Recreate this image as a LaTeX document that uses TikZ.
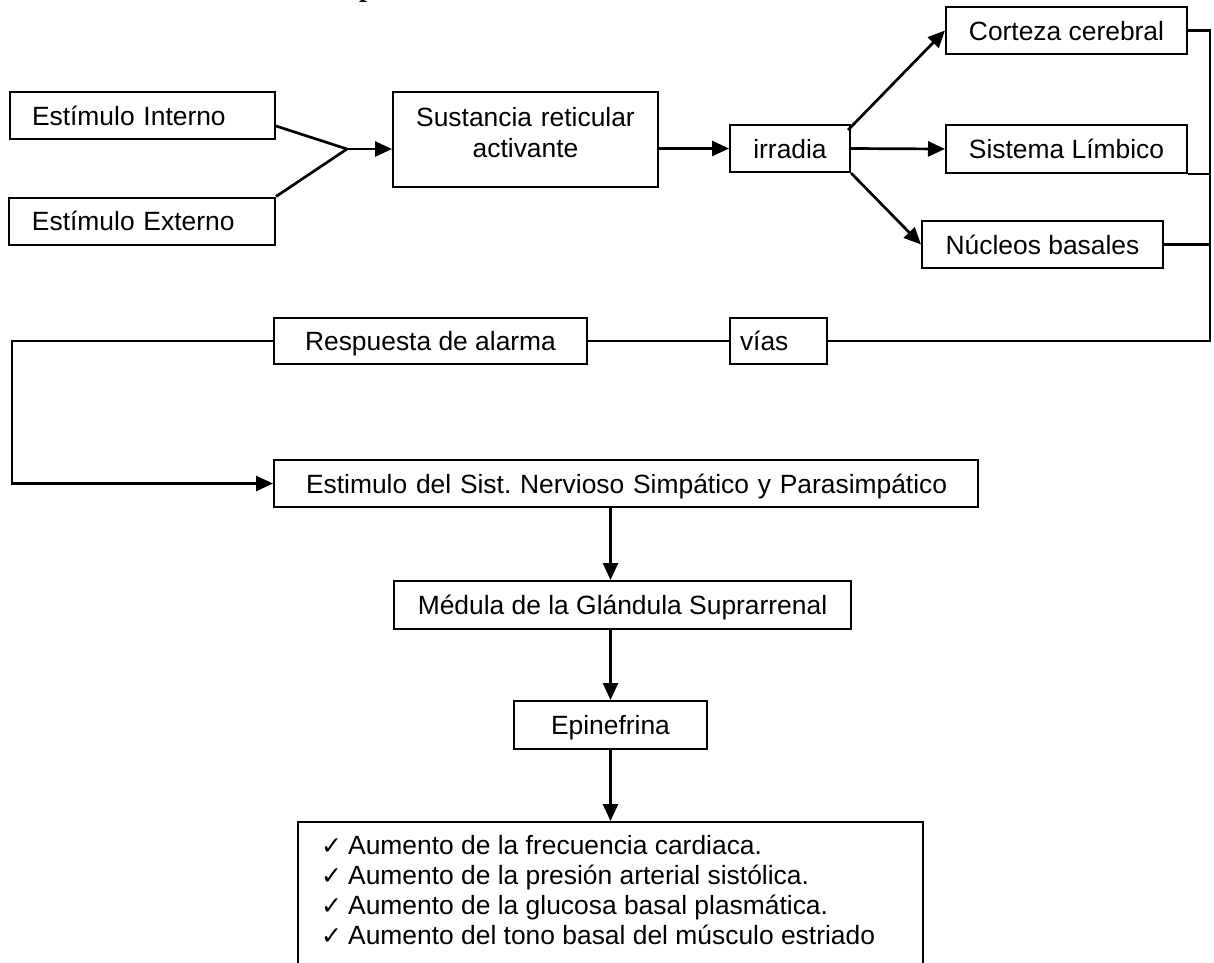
\documentclass[tikz,border=0pt]{standalone}
\usepackage{fontspec}
\setmainfont{Liberation Sans}
\newfontfamily\dejavu{DejaVu Sans}
\newfontfamily\serifb{Liberation Serif}
\usetikzlibrary{arrows.meta,calc}
\newcommand\listchk{\makebox[27pt][l]{\dejavu\fontsize{25}{25}\selectfont ✓}}
\frenchspacing
\begin{document}
\begin{tikzpicture}[x=1pt,y=-1pt,
  box/.style={draw, line width=2pt, inner sep=0pt, font=\fontsize{26.4}{31}\selectfont,
    text height=19pt, text depth=0pt, minimum height=47pt},
  conn/.style={line width=2.7pt, line join=miter},
  arr/.style={conn, -{Triangle[length=17pt,width=15pt]}},
  item/.style={anchor=base west, inner sep=0pt, font=\fontsize{26.4}{30}\selectfont}]
\useasboundingbox (0,0) rectangle (1214,962);
\begin{scope}
\clip (0,0) rectangle (1214,962);
\node[anchor=base west, inner sep=0pt, font=\serifb\bfseries\fontsize{28}{28}\selectfont] (frag) at (359,-4) {p};
\end{scope}
% boxes
\node[box, text width=265pt, align=left] (int) at (142.5,115.5) {\hspace*{22pt}Estímulo Interno};
\node[box, text width=266pt, align=left] (ext) at (142,221) {\hspace*{23pt}Estímulo Externo};
\node[box, text width=265pt, align=center, minimum height=95pt, text depth=45pt] (sus) at (525.5,139.5) {Sustancia reticular\\activante};
\node[box, minimum width=120pt] (irr) at (790,148.5) {irradia};
\node[box, minimum width=241pt] (cor) at (1066.5,30.5) {Corteza cerebral};
\node[box, minimum width=241pt, minimum height=48pt] (lim) at (1066.5,149) {Sistema Límbico};
\node[box, minimum width=241pt] (nuc) at (1042.5,244.5) {Núcleos basales};
\node[box, minimum width=313pt, minimum height=46pt] (res) at (430.5,341) {Respuesta de alarma};
\node[box, text width=97pt, align=left, minimum height=46pt] (vias) at (778.5,341) {\hspace*{10pt}vías};
\node[box, text width=704pt, align=left] (est) at (626,483.5) {\hspace*{32pt}Estimulo del Sist. Nervioso Simpático y Parasimpático};
\node[box, minimum width=457pt, minimum height=48pt] (med) at (622.5,605) {Médula de la Glándula Suprarrenal};
\node[box, minimum width=193pt, minimum height=48pt] (epi) at (610.5,725) {Epinefrina};
\node[draw, line width=2pt, minimum width=625pt, minimum height=170pt, anchor=north, inner sep=0pt] (lst) at (610.5,821) {};
\node[item] (l1) at (321,854) {\listchk Aumento de la frecuencia cardiaca.};
\node[item] (l2) at (321,884) {\listchk Aumento de la presión arterial sistólica.};
\node[item] (l3) at (321,914) {\listchk Aumento de la glucosa basal plasmática.};
\node[item] (l4) at (321,944) {\listchk Aumento del tono basal del músculo estriado};
% connectors
\coordinate (J) at (347,149);
\draw[conn] ([yshift=-10.5pt]int.east) -- (J);
\draw[conn] (ext.north east) -- (J);
\draw[arr] (J) -- (J -| sus.west);
\draw[arr] (sus.east |- irr.west) -- (irr.west);
\draw[arr] ([xshift=-3pt,yshift=-6pt]irr.north east) -- (cor.west);
\draw[arr] (irr.east) -- (lim.west);
\draw[arr] (irr.south east) -- (nuc.west);
\draw[conn] (cor.east) -- ++(22,0) coordinate (bt) -- (bt |- vias.east) -- (vias.east);
\draw[conn] (lim.south east) -- (lim.south east -| bt);
\draw[conn] (nuc.east) -- (nuc.east -| bt);
\draw[conn] (vias.west) -- (res.east);
\coordinate (L) at (12,341);
\draw[arr] (res.west) -- (L) -- (L |- est.west) -- (est.west);
\draw[arr] (est.south -| epi.north) -- (med.north -| epi.north);
\draw[arr] (med.south -| epi.north) -- (epi.north);
\draw[arr] (epi.south) -- (lst.north);
\end{tikzpicture}
\end{document}
